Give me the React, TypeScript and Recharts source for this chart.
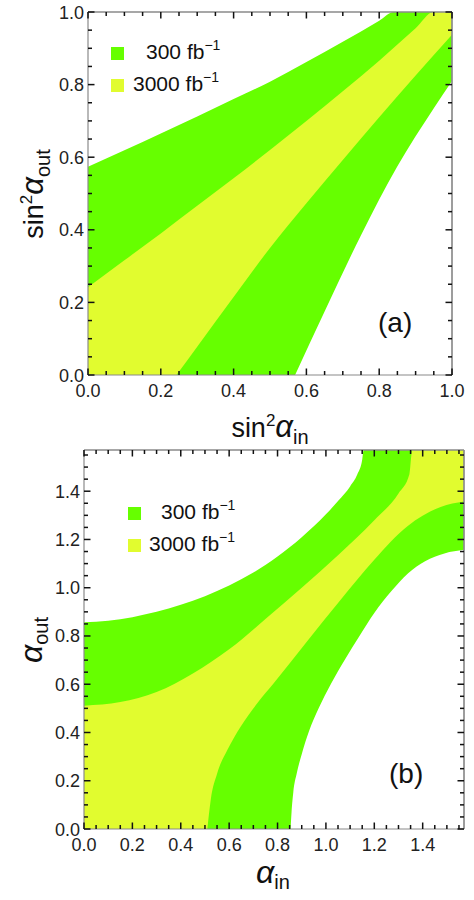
import React from 'react';
import { ComposedChart, Area, XAxis, YAxis, ReferenceLine } from 'recharts';

const GREEN = '#66ff00';
const YELLOW = '#e1fc2f';
const FRAME = '#8a8a8a';
const TICK = '#111111';
const FONT = '"Liberation Sans", Arial, sans-serif';

// ---------- Panel (a): sin^2 alpha_in vs sin^2 alpha_out ----------
const aGreenUpperX = [0, 0.1, 0.2, 0.3, 0.4, 0.5, 0.6, 0.7, 0.8, 0.84, 1.0];
const aGreenUpperY = [0.574, 0.619, 0.665, 0.712, 0.76, 0.808, 0.862, 0.918, 0.976, 1.0, 1.0];
const aGreenLowerX = [0.569, 0.65, 0.75, 0.85, 0.95, 1.0];
const aGreenLowerY = [0, 0.175, 0.385, 0.575, 0.735, 0.81];
const aYellowUpperX = [0, 0.1, 0.2, 0.3, 0.4, 0.5, 0.6, 0.7, 0.8, 0.9, 0.949, 1.0];
const aYellowUpperY = [0.242, 0.316, 0.39, 0.466, 0.542, 0.62, 0.7, 0.782, 0.866, 0.955, 1.0, 1.0];
const aYellowLowerX = [0.243, 0.3, 0.4, 0.5, 0.6, 0.7, 0.8, 0.9, 1.0];
const aYellowLowerY = [0, 0.078, 0.215, 0.35, 0.473, 0.592, 0.71, 0.825, 0.937];
const aTicks = [0, 0.05, 0.1, 0.15, 0.2, 0.25, 0.3, 0.35, 0.4, 0.45, 0.5, 0.55, 0.6, 0.65, 0.7, 0.75, 0.8, 0.85, 0.9, 0.95, 1.0];
const aMajor = [0, 0.2, 0.4, 0.6, 0.8, 1.0];

// ---------- Panel (b): alpha_in vs alpha_out ----------
const bGreenUpperX = [0, 0.1, 0.2, 0.3, 0.4, 0.5, 0.6, 0.7, 0.8, 0.9, 1.0, 1.05, 1.1, 1.13, 1.15, 1.156, 1.5708];
const bGreenUpperY = [0.857, 0.863, 0.878, 0.9, 0.929, 0.965, 1.009, 1.063, 1.129, 1.209, 1.304, 1.359, 1.42, 1.47, 1.53, 1.5708, 1.5708];
const bGreenLowerX = [0.854, 0.858, 0.865, 0.88, 0.9, 0.93, 0.97, 1.02, 1.08, 1.14, 1.2, 1.27, 1.34, 1.41, 1.49, 1.5708];
const bGreenLowerY = [0, 0.07, 0.15, 0.233, 0.31, 0.405, 0.5, 0.6, 0.705, 0.802, 0.895, 0.985, 1.06, 1.11, 1.142, 1.157];
const bYellowUpperX = [0, 0.15, 0.3, 0.45, 0.6, 0.75, 0.9, 1.05, 1.2, 1.3, 1.345, 1.357, 1.5708];
const bYellowUpperY = [0.511, 0.526, 0.568, 0.645, 0.745, 0.87, 1.0, 1.135, 1.28, 1.39, 1.47, 1.5708, 1.5708];
const bYellowLowerX = [0.51, 0.524, 0.551, 0.593, 0.648, 0.717, 0.785, 0.916, 1.061, 1.199, 1.337, 1.474, 1.5708];
const bYellowLowerY = [0, 0.121, 0.232, 0.328, 0.425, 0.522, 0.605, 0.77, 0.95, 1.115, 1.255, 1.335, 1.357];
const bTicks = [0, 0.05, 0.1, 0.15, 0.2, 0.25, 0.3, 0.35, 0.4, 0.45, 0.5, 0.55, 0.6, 0.65, 0.7, 0.75, 0.8, 0.85, 0.9, 0.95, 1.0, 1.05, 1.1, 1.15, 1.2, 1.25, 1.3, 1.35, 1.4, 1.45, 1.5, 1.55];
const bMajor = [0, 0.2, 0.4, 0.6, 0.8, 1.0, 1.2, 1.4];
const bMax = 1.5708;

const legendLabels = ['300', '3000'];

type Series = [string, number[], number[]];
function buildRows(series: Series[]) {
  const map = new Map<number, any>();
  for (const [key, xs, ys] of series) {
    xs.forEach((x, i) => {
      const k = Math.round(x * 10000);
      const row = map.get(k) ?? { x };
      row[key] = ys[i];
      map.set(k, row);
    });
  }
  return Array.from(map.values()).sort((a, b) => a.x - b.x);
}

const aRows = buildRows([
  ['gU', aGreenUpperX, aGreenUpperY],
  ['gL', aGreenLowerX, aGreenLowerY],
  ['yU', aYellowUpperX, aYellowUpperY],
  ['yL', aYellowLowerX, aYellowLowerY],
]);
const bRows = buildRows([
  ['gU', bGreenUpperX, bGreenUpperY],
  ['gL', bGreenLowerX, bGreenLowerY],
  ['yU', bYellowUpperX, bYellowUpperY],
  ['yL', bYellowLowerX, bYellowLowerY],
]);

const isMajor = (majors: number[], v: number) => majors.some((m) => Math.abs(m - v) < 1e-6);

function makeTick(side: 'bottom' | 'top' | 'left' | 'right', majors: number[]) {
  return (props: any) => {
    const x = Number(props.x);
    const y = Number(props.y);
    const v = Number(props.payload?.value);
    const major = isMajor(majors, v);
    const len = major ? 6.5 : 4;
    let d = '';
    if (side === 'bottom') d = `M${x},${y}L${x},${y - len}`;
    else if (side === 'top') d = `M${x},${y}L${x},${y + len}`;
    else if (side === 'left') d = `M${x},${y}L${x + len},${y}`;
    else d = `M${x},${y}L${x - len},${y}`;
    let label = null;
    if (major && side === 'bottom') {
      label = (
        <text x={x} y={y + 22} textAnchor="middle" fontSize={18} fontFamily={FONT} fill="#222" stroke="none">
          {v.toFixed(1)}
        </text>
      );
    } else if (major && side === 'left') {
      label = (
        <text x={x - 4} y={y + 6.5} textAnchor="end" fontSize={18} fontFamily={FONT} fill="#222" stroke="none">
          {v.toFixed(1)}
        </text>
      );
    }
    return (
      <g>
        <path d={d} style={{ stroke: TICK, strokeWidth: 1.5, fill: 'none' }} />
        {label}
      </g>
    );
  };
}

function Panel(props: {
  rows: any[];
  width: number;
  height: number;
  margin: any;
  max: number;
  ticks: number[];
  majors: number[];
}) {
  const { rows, width, height, margin, max, ticks, majors } = props;
  const common = {
    xAxisId: 'b',
    yAxisId: 'l',
    type: 'monotone',
    fillOpacity: 1,
    stroke: 'none',
    connectNulls: true,
    isAnimationActive: false,
    dot: false,
    activeDot: false,
    baseValue: 0,
  } as any;
  const axisCommon = {
    type: 'number',
    domain: [0, max],
    allowDataOverflow: true,
    ticks,
    interval: 0,
    tickSize: 0,
    tickMargin: 0,
    tickLine: false,
    axisLine: { stroke: FRAME, strokeWidth: 1.2 },
  } as any;
  return (
    <ComposedChart width={width} height={height} data={rows} margin={margin}>
      <Area {...common} dataKey="gU" fill={GREEN} />
      <Area {...common} dataKey="yU" fill={YELLOW} />
      <Area {...common} dataKey="yL" fill={GREEN} />
      <Area {...common} dataKey="gL" fill="#ffffff" />
      <XAxis {...axisCommon} xAxisId="b" dataKey="x" height={1} tick={makeTick('bottom', majors)} />
      <XAxis {...axisCommon} xAxisId="t" dataKey="x" orientation="top" height={1} tick={makeTick('top', majors)} />
      <YAxis {...axisCommon} yAxisId="l" width={1} tick={makeTick('left', majors)} />
      <YAxis {...axisCommon} yAxisId="r" orientation="right" width={1} tick={makeTick('right', majors)} />
      <ReferenceLine xAxisId="b" yAxisId="l" x={max} stroke={FRAME} strokeWidth={1.2} ifOverflow="visible" />
      <ReferenceLine xAxisId="b" yAxisId="l" y={max} stroke={FRAME} strokeWidth={1.2} ifOverflow="visible" />
    </ComposedChart>
  );
}

function Legend(props: { x: number; y: number; textX: number[]; gap: number }) {
  const { x, y, textX, gap } = props;
  const colors = [GREEN, YELLOW];
  return (
    <g>
      {legendLabels.map((lab, i) => (
        <g key={lab}>
          <rect x={x} y={y + i * gap} width={13} height={13} fill={colors[i]} />
          <text x={textX[i]} y={y + i * gap + 12} fontSize={21} fontFamily={FONT} fill="#111">
            {lab} fb
            <tspan dy={-9} fontSize={14}>−1</tspan>
          </text>
        </g>
      ))}
    </g>
  );
}

export default function App() {
  return (
    <div style={{ position: 'absolute', left: 0, top: 0, width: 474, height: 900, background: '#fff' }}>
      <div style={{ position: 'absolute', left: 0, top: 0 }}>
        <Panel
          rows={aRows}
          width={474}
          height={430}
          margin={{ top: 11, right: 21, bottom: 54, left: 87 }}
          max={1}
          ticks={aTicks}
          majors={aMajor}
        />
      </div>
      <div style={{ position: 'absolute', left: 0, top: 430 }}>
        <Panel
          rows={bRows}
          width={474}
          height={470}
          margin={{ top: 19, right: 9, bottom: 70, left: 83 }}
          max={bMax}
          ticks={bTicks}
          majors={bMajor}
        />
      </div>
      <svg
        width={474}
        height={900}
        style={{ position: 'absolute', left: 0, top: 0, pointerEvents: 'none' }}
      >
        {/* Panel (a) texts */}
        <Legend x={111} y={47} textX={[146, 133]} gap={32} />
        <text x={378} y={332} fontSize={28} fontFamily={FONT} fill="#111">(a)</text>
        <text x={270} y={437} textAnchor="middle" fontFamily={FONT} fill="#111" fontSize={27}>
          sin
          <tspan dy={-11} fontSize={17}>2</tspan>
          <tspan dy={11} fontSize={31} fontStyle="italic">α</tspan>
          <tspan dy={7} fontSize={20}>in</tspan>
        </text>
        <text
          x={0}
          y={0}
          transform="translate(43,194) rotate(-90)"
          textAnchor="middle"
          fontFamily={FONT}
          fill="#111"
          fontSize={27}
        >
          sin
          <tspan dy={-11} fontSize={17}>2</tspan>
          <tspan dy={11} fontSize={31} fontStyle="italic">α</tspan>
          <tspan dy={7} fontSize={20}>out</tspan>
        </text>

        {/* Panel (b) texts */}
        <Legend x={128} y={507} textX={[161, 149]} gap={32} />
        <text x={389} y={783} fontSize={28} fontFamily={FONT} fill="#111">(b)</text>
        <text x={273} y={883} textAnchor="middle" fontFamily={FONT} fill="#111" fontSize={32}>
          <tspan fontStyle="italic">α</tspan>
          <tspan dy={6} fontSize={20}>in</tspan>
        </text>
        <text
          x={0}
          y={0}
          transform="translate(42,640) rotate(-90)"
          textAnchor="middle"
          fontFamily={FONT}
          fill="#111"
          fontSize={32}
        >
          <tspan fontStyle="italic">α</tspan>
          <tspan dy={6} fontSize={20}>out</tspan>
        </text>
      </svg>
    </div>
  );
}
